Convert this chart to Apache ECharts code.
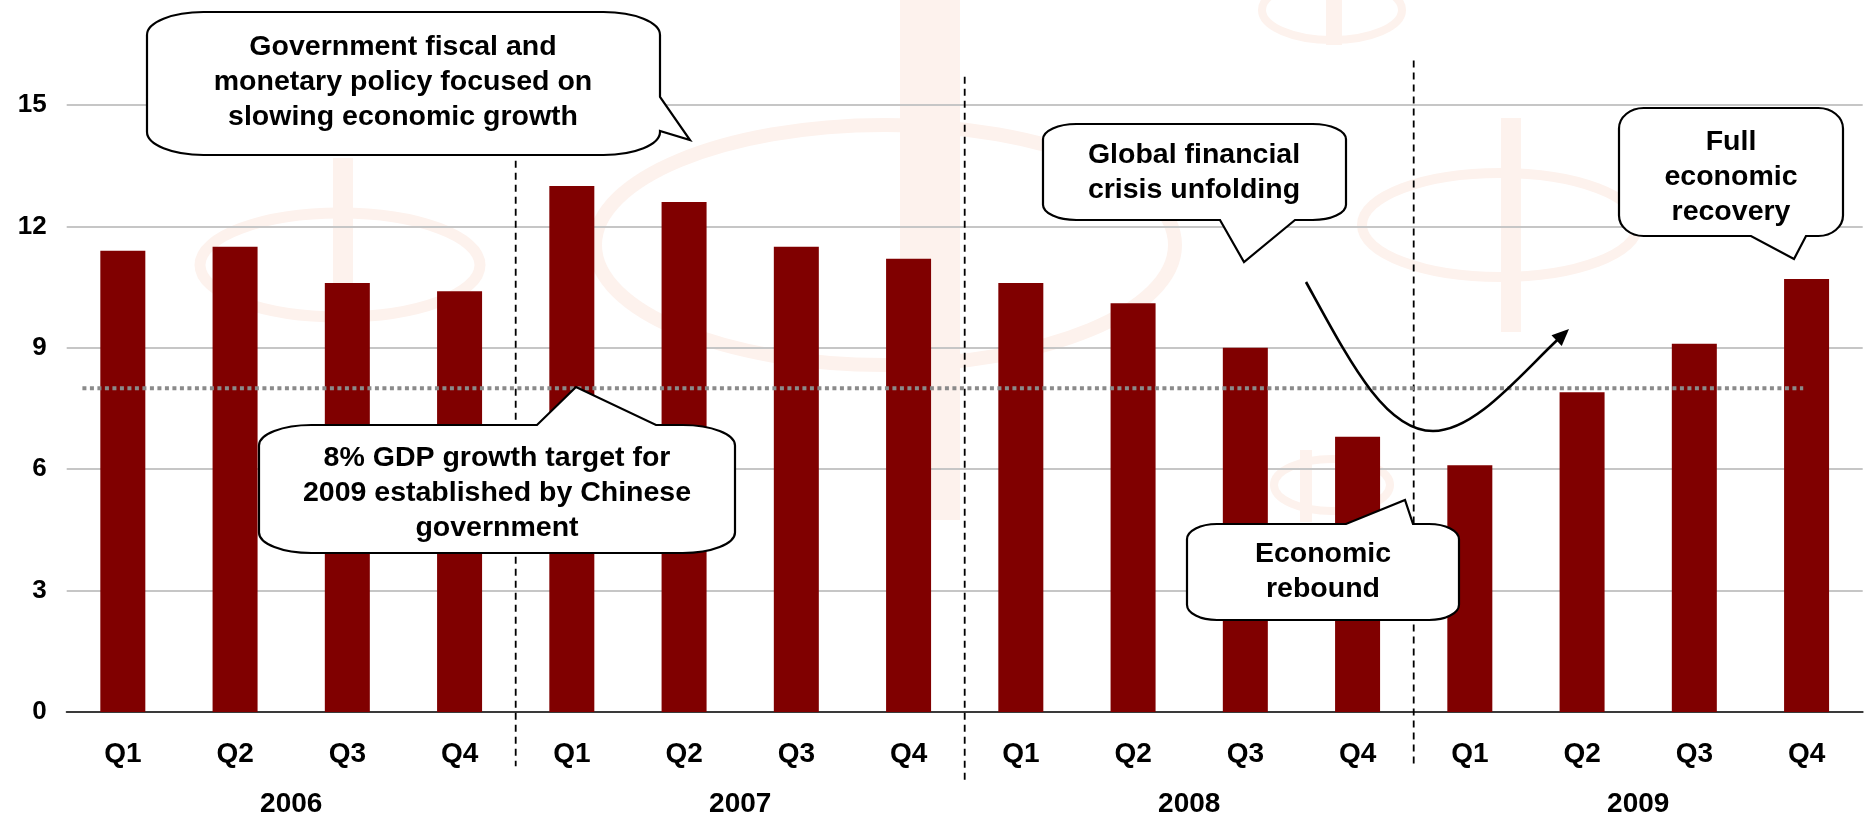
<!DOCTYPE html>
<html>
<head>
<meta charset="utf-8">
<title>China quarterly GDP growth 2006-2009</title>
<script src="https://cdn.jsdelivr.net/npm/echarts@6/dist/echarts.min.js"></script>
<style>
  html, body { margin: 0; padding: 0; background: #ffffff; }
  #chart { width: 1873px; height: 822px; }
</style>
</head>
<body>
<div id="chart"></div>
<script>
// ---- data ----
const quarters = ['Q1', 'Q2', 'Q3', 'Q4', 'Q1', 'Q2', 'Q3', 'Q4',
                  'Q1', 'Q2', 'Q3', 'Q4', 'Q1', 'Q2', 'Q3', 'Q4'];
const years = ['2006', '2007', '2008', '2009'];
// real GDP growth, % year on year
const gdpGrowth = [11.4, 11.5, 10.6, 10.4, 13.0, 12.6, 11.5, 11.2,
                   10.6, 10.1, 9.0, 6.8, 6.1, 7.9, 9.1, 10.7];
const growthTarget = 8;          // 2009 government target, %
const yTickValues = [0, 3, 6, 9, 12, 15];

const FONT = '"Liberation Sans", Arial, sans-serif';
const chart = echarts.init(document.getElementById('chart'), null, { renderer: 'canvas' });

// quarter index positions for the year boundaries (between Q4 and Q1)
const boundaries = [
  { at: 3.5, top: 15.7, bottom: -1.34 },
  { at: 7.5, top: 15.7, bottom: -1.79 },
  { at: 11.5, top: 16.1, bottom: -1.34 }
];

// rounded speech bubble outline with a wedge on one side
function calloutPath(b) {
  const x = b.x, y = b.y, w = b.w, h = b.h;
  const rx = 0.11 * w, ry = 0.16 * h, k = 0.5523;
  const t = b.tip[0] + ',' + b.tip[1];
  let p = 'M' + (x + rx) + ',' + y;
  if (b.side === 'top') p += ' L' + b.a + ',' + y + ' L' + t + ' L' + b.b + ',' + y;
  p += ' L' + (x + w - rx) + ',' + y +
       ' C' + (x + w - rx + rx * k) + ',' + y + ' ' + (x + w) + ',' + (y + ry - ry * k) + ' ' + (x + w) + ',' + (y + ry);
  if (b.side === 'right') p += ' L' + (x + w) + ',' + b.a + ' L' + t + ' L' + (x + w) + ',' + b.b;
  p += ' L' + (x + w) + ',' + (y + h - ry) +
       ' C' + (x + w) + ',' + (y + h - ry + ry * k) + ' ' + (x + w - rx + rx * k) + ',' + (y + h) + ' ' + (x + w - rx) + ',' + (y + h);
  if (b.side === 'bottom') p += ' L' + b.b + ',' + (y + h) + ' L' + t + ' L' + b.a + ',' + (y + h);
  p += ' L' + (x + rx) + ',' + (y + h) +
       ' C' + (x + rx - rx * k) + ',' + (y + h) + ' ' + x + ',' + (y + h - ry + ry * k) + ' ' + x + ',' + (y + h - ry) +
       ' L' + x + ',' + (y + ry) +
       ' C' + x + ',' + (y + ry - ry * k) + ' ' + (x + rx - rx * k) + ',' + y + ' ' + (x + rx) + ',' + y + ' Z';
  return p;
}

const callouts = [
  { text: 'Government fiscal and\nmonetary policy focused on\nslowing economic growth',
    x: 147, y: 12, w: 513, h: 143, side: 'right', a: 97, b: 131, tip: [690, 140], tx: 403, ty: 82 },
  { text: '8% GDP growth target for\n2009 established by Chinese\ngovernment',
    x: 259, y: 425, w: 476, h: 128, side: 'top', a: 537, b: 656, tip: [576, 387], tx: 497, ty: 493 },
  { text: 'Global financial\ncrisis unfolding',
    x: 1043, y: 124, w: 303, h: 96, side: 'bottom', a: 1220, b: 1295, tip: [1244, 262], tx: 1194, ty: 173 },
  { text: 'Full\neconomic\nrecovery',
    x: 1619, y: 108, w: 224, h: 128, side: 'bottom', a: 1751, b: 1806, tip: [1794, 259], tx: 1731, ty: 177 },
  { text: 'Economic\nrebound',
    x: 1187, y: 524, w: 272, h: 96, side: 'top', a: 1346, b: 1413, tip: [1405, 500], tx: 1323, ty: 572 }
];

// faint logo watermark behind the plot
const graphics = [];
const wmColor = '#fdf2ed';
[
  { cx: 340, cy: 265, rx: 140, ry: 52, lw: 11 },
  { cx: 885, cy: 245, rx: 290, ry: 120, lw: 14 },
  { cx: 1332, cy: 10, rx: 70, ry: 30, lw: 8 },
  { cx: 1500, cy: 225, rx: 138, ry: 52, lw: 10 },
  { cx: 1332, cy: 485, rx: 58, ry: 26, lw: 8 }
].forEach(function (e) {
  graphics.push({ type: 'ellipse', z: -5, silent: true,
    shape: { cx: e.cx, cy: e.cy, rx: e.rx, ry: e.ry },
    style: { fill: 'none', stroke: wmColor, lineWidth: e.lw } });
});
[
  { x: 333, y: 158, w: 20, h: 158 },
  { x: 900, y: 0, w: 60, h: 520 },
  { x: 1326, y: 0, w: 16, h: 45 },
  { x: 1501, y: 118, w: 20, h: 214 },
  { x: 1300, y: 450, w: 12, h: 72 }
].forEach(function (r) {
  graphics.push({ type: 'rect', z: -5, silent: true,
    shape: { x: r.x, y: r.y, width: r.w, height: r.h },
    style: { fill: wmColor } });
});

// speech bubbles and the rebound arrow, drawn on top of the plot
function renderAnnotations() {
  const children = [];
  callouts.forEach(function (c) {
    children.push({ type: 'path', z2: 1,
      shape: { pathData: calloutPath(c) },
      style: { fill: '#ffffff', stroke: '#000000', lineWidth: 2.2 } });
    children.push({ type: 'text', z2: 2, x: c.tx, y: c.ty,
      style: { text: c.text, fill: '#000000', fontSize: 28.5, fontWeight: 'bold', fontFamily: FONT,
               lineHeight: 35, align: 'center', verticalAlign: 'middle' } });
  });
  const tip = [1569, 329], c2 = [1520, 375];
  const dx = tip[0] - c2[0], dy = tip[1] - c2[1], len = Math.sqrt(dx * dx + dy * dy);
  const ux = dx / len, uy = dy / len, nx = -uy, ny = ux;
  const headLen = 17, headHalf = 7.5;
  const bx = tip[0] - ux * headLen, by = tip[1] - uy * headLen;
  const endX = tip[0] - ux * (headLen - 2), endY = tip[1] - uy * (headLen - 2);
  children.push({ type: 'path', z2: 3,
    shape: { pathData: 'M1306,282 C1350,362 1385,431 1433,431 C1475,431 ' + c2[0] + ',' + c2[1] + ' ' + endX + ',' + endY },
    style: { fill: 'none', stroke: '#000000', lineWidth: 2.6 } });
  children.push({ type: 'polygon', z2: 3,
    shape: { points: [tip, [bx + nx * headHalf, by + ny * headHalf], [bx - nx * headHalf, by - ny * headHalf]] },
    style: { fill: '#000000' } });
  return { type: 'group', children: children };
}

const series = [
  {
    type: 'bar', name: 'GDP growth', xAxisIndex: 0, yAxisIndex: 0,
    data: gdpGrowth, barWidth: 45, z: 2,
    itemStyle: { color: '#800000' }
  },
  {
    type: 'line', name: 'Target', xAxisIndex: 2, yAxisIndex: 0,
    data: [[-0.36, growthTarget], [14.97, growthTarget]],
    symbol: 'none', z: 4, silent: true,
    lineStyle: { color: '#8a8a8a', width: 4, type: [4, 3.5] }
  }
];
boundaries.forEach(function (b) {
  series.push({
    type: 'line', xAxisIndex: 2, yAxisIndex: 0, clip: false,
    data: [[b.at, b.top], [b.at, b.bottom]],
    symbol: 'none', z: 3, silent: true,
    lineStyle: { color: '#000000', width: 1.8, type: [7, 5] }
  });
});
series.push({
  type: 'custom', coordinateSystem: 'none', silent: true, z: 20,
  data: [0], renderItem: renderAnnotations
});

chart.setOption({
  animation: false,
  backgroundColor: '#ffffff',
  grid: { left: 66.7, right: 10.3, top: 105, bottom: 110, containLabel: false },
  xAxis: [
    {
      type: 'category', data: quarters, position: 'bottom', boundaryGap: true,
      axisLine: { show: true, lineStyle: { color: '#3a3a3a', width: 2 } },
      axisTick: { show: false },
      axisLabel: { color: '#000000', fontSize: 28, fontWeight: 'bold', fontFamily: FONT,
                   lineHeight: 28, margin: 28, interval: 0 },
      splitLine: { show: false }
    },
    {
      type: 'category', data: years, position: 'bottom', boundaryGap: true,
      axisLine: { show: false }, axisTick: { show: false }, splitLine: { show: false },
      axisLabel: { color: '#000000', fontSize: 28, fontWeight: 'bold', fontFamily: FONT,
                   lineHeight: 28, margin: 78, interval: 0 }
    },
    { type: 'value', min: -0.5, max: 15.5, show: false }
  ],
  yAxis: {
    type: 'value',
    min: yTickValues[0], max: yTickValues[yTickValues.length - 1],
    interval: yTickValues[1] - yTickValues[0],
    axisLine: { show: false }, axisTick: { show: false },
    axisLabel: { color: '#000000', fontSize: 26, fontWeight: 'bold', fontFamily: FONT, margin: 20 },
    splitLine: { show: true, lineStyle: { color: '#c6c6c6', width: 2 } }
  },
  graphic: { elements: graphics },
  series: series
});
</script>
</body>
</html>
